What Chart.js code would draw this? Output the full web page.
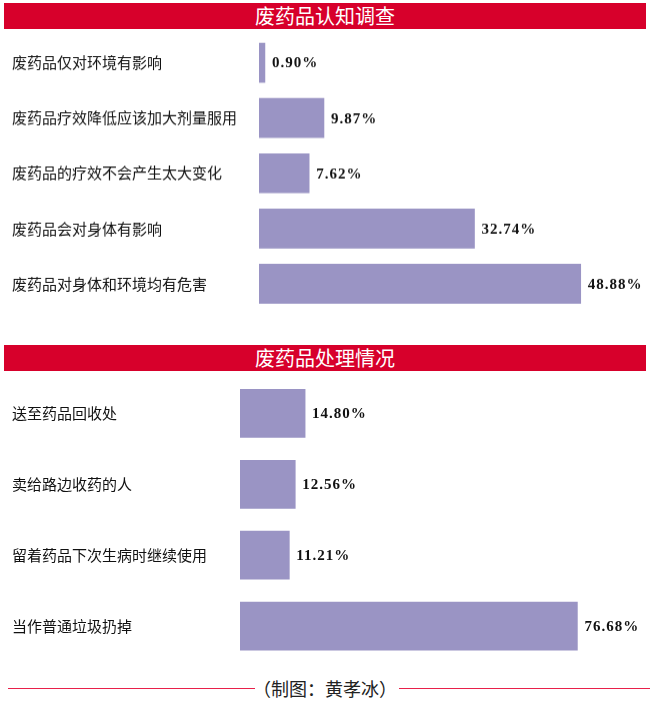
<!DOCTYPE html>
<html>
<head>
<meta charset="utf-8">
<script src="https://cdn.jsdelivr.net/npm/chart.js@4"></script>
<style>
  html, body { margin: 0; padding: 0; background: #fff; }
  body { width: 650px; height: 701px; position: relative; overflow: hidden; }
  .header {
    position: absolute; left: 4px; width: 642px; height: 26px;
    background: #d7002b; color: #fff; text-align: center;
    font: 20px/26px "Noto Sans CJK SC", sans-serif;
  }
  .box { position: absolute; left: 0; width: 650px; }
  .footer {
    position: absolute; left: 0; top: 676px; width: 650px; height: 24px;
    font: 18px/24px "Noto Sans CJK SC", sans-serif; color: #222; text-align: center;
  }
  .footer .line { position: absolute; top: 12px; height: 1px; background: #e8204a; }
</style>
</head>
<body>

<div class="header" style="top:3px">废药品认知调查</div>
<!-- boxes are a bit taller than the bar area: the y axis keeps half a label of padding top and bottom -->
<div class="box" style="top:26.25px; height:293.5px"><canvas id="cognition"></canvas></div>

<div class="header" style="top:345px">废药品处理情况</div>
<div class="box" style="top:368.75px; height:301.5px"><canvas id="disposal"></canvas></div>

<div class="footer">
  <div class="line" style="left:8px; width:247px"></div>
  （制图：黄孝冰）
  <div class="line" style="left:399px; width:251px"></div>
</div>

<script>
// survey 1: awareness of waste medicine
const cognitionLabels = [
    '废药品仅对环境有影响',
    '废药品疗效降低应该加大剂量服用',
    '废药品的疗效不会产生太大变化',
    '废药品会对身体有影响',
    '废药品对身体和环境均有危害'
];
const cognitionValues = [0.90, 9.87, 7.62, 32.74, 48.88];

// survey 2: how waste medicine is handled
const disposalLabels = [
    '送至药品回收处',
    '卖给路边收药的人',
    '留着药品下次生病时继续使用',
    '当作普通垃圾扔掉'
];
const disposalValues = [14.80, 12.56, 11.21, 76.68];

const barColor = '#9a94c4';

// draws the percentage text just right of each bar
const valueLabels = {
    id: 'valueLabels',
    afterDatasetsDraw(chart) {
        const ctx = chart.ctx;
        const meta = chart.getDatasetMeta(0);
        ctx.save();
        ctx.font = 'bold 15px "Liberation Serif", "DejaVu Serif", serif';
        ctx.letterSpacing = '1px';
        ctx.fillStyle = '#111';
        ctx.textBaseline = 'middle';
        ctx.textAlign = 'left';
        meta.data.forEach((bar, i) => {
            const v = chart.data.datasets[0].data[i];
            ctx.fillText(v.toFixed(2) + '%', bar.x + 7, bar.y + 1);
        });
        ctx.restore();
    }
};

function makeChart(id, labels, values, opts) {
    const ctx = document.getElementById(id);
    return new Chart(ctx, {
        type: 'bar',
        data: {
            labels: labels,
            datasets: [{
                data: values,
                backgroundColor: barColor,
                borderWidth: 0,
                barThickness: opts.thickness
            }]
        },
        options: {
            indexAxis: 'y',
            responsive: true,
            maintainAspectRatio: false,
            animation: false,
            layout: {
                padding: { left: 12, right: opts.padRight, top: 0, bottom: 0 }
            },
            plugins: {
                legend: { display: false },
                tooltip: { enabled: false }
            },
            scales: {
                x: {
                    display: false,
                    min: 0,
                    max: opts.max
                },
                y: {
                    grid: { display: false },
                    border: { display: false },
                    ticks: {
                        crossAlign: 'far',
                        color: '#111',
                        padding: 0,
                        font: { family: '"Noto Sans CJK SC", sans-serif', size: 15 }
                    },
                    afterFit: (scale) => { scale.width = opts.axisWidth; }
                }
            }
        },
        plugins: [valueLabels]
    });
}

makeChart('cognition', cognitionLabels, cognitionValues,
    { thickness: 39, max: 55, padRight: 29, axisWidth: 247 });
makeChart('disposal', disposalLabels, disposalValues,
    { thickness: 48, max: 85, padRight: 36, axisWidth: 228 });
</script>
</body>
</html>
